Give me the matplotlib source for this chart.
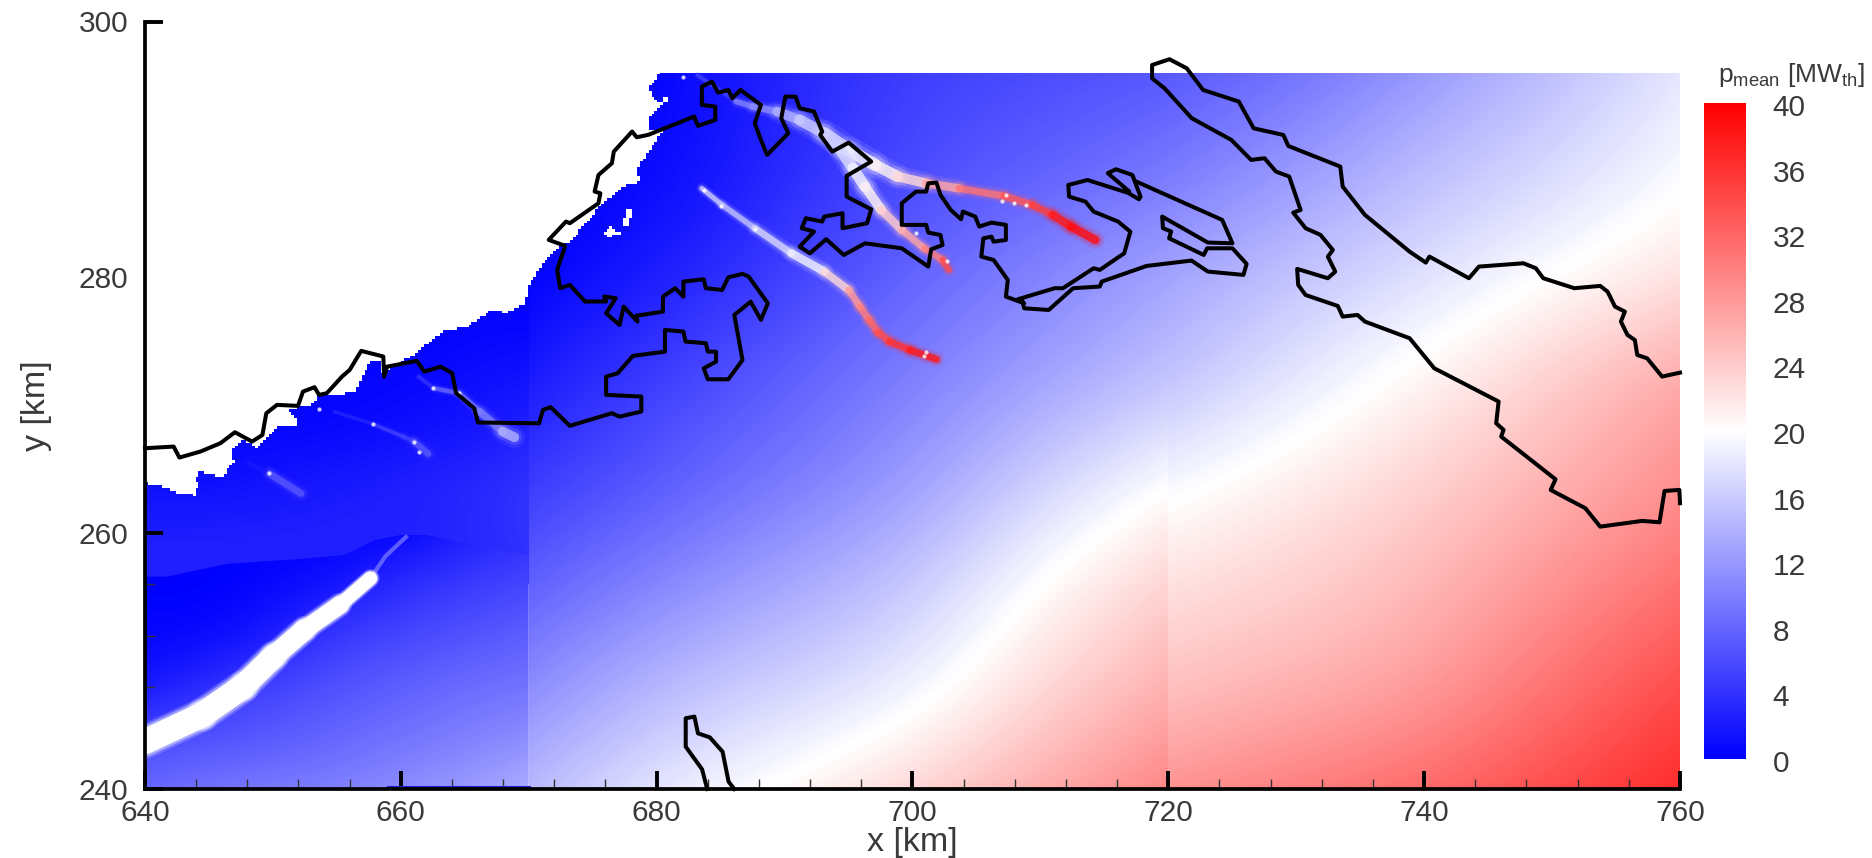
import numpy as np
import matplotlib
matplotlib.use("Agg")
import matplotlib.pyplot as plt
from matplotlib.collections import LineCollection
from matplotlib.colors import LinearSegmentedColormap
from matplotlib.patches import Polygon, Rectangle
from matplotlib.path import Path

plt.rcParams['font.family'] = ['Liberation Sans', 'DejaVu Sans']
plt.rcParams['mathtext.fontset'] = 'custom'
plt.rcParams['mathtext.rm'] = 'Liberation Sans'

# mean power field [MW_th], one block per simulation tile
left_x = [640, 645, 650, 655, 660, 665, 670]
low_y = [240, 244, 248, 252, 256, 260]
low_p = [[8, 9, 9.5, 10, 11, 12, 13.5],
         [6, 6.5, 7, 8, 9, 10, 11],
         [1.5, 3.5, 5.5, 6.5, 7.5, 8.5, 9],
         [0.5, 0.5, 2, 4.5, 5.5, 6.5, 7.5],
         [0, 0, 0.5, 1.5, 3.5, 4.5, 5.5],
         [0, 0, 0, 0, 0.5, 2.5, 3.5]]
up_y = [256, 260, 264, 268, 272, 276, 280, 284, 288, 292, 296]
up_p = [[2.5, 2.5, 2.5, 2.5, 2.5, 3, 3.5],
        [2.5, 2.5, 2.5, 2.5, 2.5, 3, 4],
        [1, 1, 1.5, 2, 2.5, 3, 4],
        [0.5, 0.5, 0.5, 0.5, 1, 1.5, 2.5],
        [0, 0, 0, 0.5, 0.5, 1, 1.5],
        [0, 0, 0, 0, 0, 0.5, 0.5],
        [0, 0, 0, 0, 0, 0, 0],
        [0, 0, 0, 0, 0, 0, 0],
        [0, 0, 0, 0, 0, 0, 0],
        [0, 0, 0, 0, 0, 0, 0],
        [0, 0, 0, 0, 0, 0, 0]]
mid_x = [670, 680, 690, 700, 710, 720]
right_x = [720, 730, 740, 750, 760]
tile_y = [240, 248, 256, 264, 272, 280, 288, 296]
mid_p = [[14.5, 18, 20.5, 23, 26.5, 29.5],
         [11, 14.5, 16.5, 18.5, 23, 26],
         [7.5, 10.5, 13, 15.5, 20.5, 23.5],
         [4.5, 7, 9.5, 12, 16.5, 20],
         [2, 5, 7.5, 10, 12.5, 15],
         [0, 2, 5, 8, 10.5, 13],
         [0, 0.5, 3, 6, 7.5, 9.5],
         [0, 0, 3, 5, 6, 7]]
right_p = [[28.5, 30, 31.5, 34, 36.5],
           [24.7, 26, 27.5, 31, 34],
           [22.5, 23.5, 25.5, 28.5, 31],
           [19.5, 21.5, 23.5, 26, 28.5],
           [15, 18, 21, 24, 27],
           [13, 15.5, 17.5, 20, 22],
           [9.5, 12, 15, 17, 19.5],
           [7, 9, 12, 15, 18]]
# edge of the darker band in the left tile
band_x = [640, 641.67, 646.45, 652.44, 655.63, 658.02, 660, 662, 665.2, 670, 670, 640]
band_y = [256.6, 256.6, 257.6, 258, 258.3, 259.47, 259.86, 259.86, 259.2, 258.3, 240, 240]

# land without data (white), jagged edge comes from the grid cells below
land_x = [640, 641.5, 642.5, 644, 644.1, 644.03, 644.18, 645.98, 647.03, 646.73, 647.62, 648.82, 649.87,
          650.6, 652.11, 651.2, 653.01, 653.61, 656.3, 657.5, 658.4, 658.69, 658.99, 660.79, 663.48, 664.98,
          667.07, 668.27, 669.62, 670.06, 670.96, 672.16, 673.21, 675.45, 677.25, 678.89, 678.44, 680.39,
          679.34, 679.49, 680.54, 679.79, 679.34, 680.39, 680.8, 640]
land_y = [263.9, 263.6, 263.2, 262.95, 263.7, 264.16, 264.89, 264.42, 265.6, 266.25, 267.42, 266.64, 267.81,
          268.4, 268.5, 269.7, 270.03, 270.81, 270.94, 273.28, 273.54, 272.11, 272.76, 273.81, 275.89, 276.02,
          277.45, 277.25, 277.85, 279.54, 280.84, 282.28, 282.8, 285.4, 287.1, 287.49, 288.4, 291.4,
          291.53, 292.57, 293.61, 293.87, 294.78, 296.09, 296.5, 296.5]
hole1_x = [677.84, 678.14, 677.69, 677.25, 677.55]
hole1_y = [285.53, 285.01, 283.97, 283.97, 284.75]
hole2_x = [676.35, 677.1, 676.05, 675.9]
hole2_y = [283.97, 283.45, 283.06, 283.58]
hole3_x = [680.54, 680.84, 680.84, 680.54]
hole3_y = [293.61, 293.61, 294.13, 294.13]

# turbine wakes: path, power along it, width in points
wake1_x = [683.2, 686.23, 687.51, 689.42, 691.18, 693.1, 695.01, 697.08, 698.84, 701.07, 703.63, 707.14, 709.37, 710.96, 712.4, 714.3]
wake1_y = [295.8, 293.74, 293.35, 292.96, 292.3, 291.26, 289.96, 288.79, 287.88, 287.35, 286.96, 286.36, 285.66, 284.88, 283.97, 282.92]
wake1_p = [5, 10, 11, 14, 16, 17, 19, 21, 23, 27, 31, 33, 35, 38, 39, 40]
wake1_w = [2.5, 4, 5, 7, 8, 9, 9, 8, 7, 6, 5, 5, 5, 6, 6]
wake2_x = [692.9, 694.37, 695.33, 696.29, 697.56, 699.16, 700.91, 702.35, 702.83]
wake2_y = [291.3, 289.96, 288.53, 287.09, 285.27, 283.71, 282.27, 281.36, 280.58]
wake2_p = [16, 17, 19, 21, 24, 27, 30, 34, 38]
wake2_w = [7, 8, 8, 7, 6, 5, 4.5, 4.5]
wake3_x = [683.52, 685.12, 687.67, 690.54, 693.1, 695.01, 695.9, 696.61, 697.3, 698.2, 699.8, 701.87]
wake3_y = [286.96, 285.66, 283.84, 281.88, 280.45, 279.01, 277.7, 276.67, 275.7, 274.98, 274.32, 273.59]
wake3_p = [16, 15, 17, 19, 23, 28, 30, 32, 34, 36, 38, 39]
wake3_w = [3.5, 4, 5, 6, 5.5, 5, 5, 5, 5, 5, 5]
wake4_x = [661.39, 662.58, 664.53, 666.17, 667.97, 668.87]
wake4_y = [272.24, 271.33, 270.94, 269.5, 267.94, 267.5]
wake4_p = [4, 8, 9, 10, 14, 18]
wake4_w = [2.5, 3, 4, 5.5, 7]
wake5_x = [654.8, 657.8, 660.19, 661.03, 662.14]
wake5_y = [269.5, 268.54, 267.55, 267.16, 266.2]
wake5_p = [3, 5, 5, 7, 11]
wake5_w = [2, 2.5, 3, 4.5]
wake6_x = [648.1, 649.72, 652.2]
wake6_y = [265.5, 264.66, 263.1]
wake6_p = [2, 7, 12]
wake6_w = [2.5, 5]
wakes = [(wake1_x, wake1_y, wake1_p, wake1_w), (wake2_x, wake2_y, wake2_p, wake2_w), (wake3_x, wake3_y, wake3_p, wake3_w),
         (wake4_x, wake4_y, wake4_p, wake4_w), (wake5_x, wake5_y, wake5_p, wake5_w), (wake6_x, wake6_y, wake6_p, wake6_w)]
# big white wake, with its width in points
big_x = [640, 644.46, 647.65, 650.04, 652.44, 655.23, 657.62]
big_y = [243.7, 245.79, 248, 250.35, 252.43, 254.39, 256.47]
big_w = [18, 18, 17, 15, 13, 10]
tail_x = [657.62, 658.8, 660.4]
tail_y = [256.47, 258.2, 259.7]
# bright single cells
spot_x = [662.52, 664.53, 653.61, 657.8, 661.03, 661.39, 649.72, 682.03, 683.68, 685.05, 687.67, 707.3, 706.98, 707.93, 708.89, 701.07, 700.91, 700.27, 702.67]
spot_y = [271.38, 270.94, 269.69, 268.54, 267.16, 266.38, 264.68, 295.64, 286.83, 285.61, 283.78, 286.44, 286, 285.79, 285.66, 274.2, 273.85, 283.5, 281.31]

# outlines
coast_x = [640, 642.24, 642.69, 644.33, 645.89, 647.03, 648.37, 649.18, 649.48, 650.32, 651.96, 652.35, 653.25, 653.61, 654.21,
           655.4, 656, 656.9, 658.63, 658.69, 658.93, 661.24, 661.84, 663.12, 664.02, 664.32, 665.73, 666.03, 670.81, 671.11,
           671.71, 673.21, 676.5, 677.1, 678.8, 678.8, 676.05, 676.05, 676.95, 678.14, 680.65, 680.65, 682.09, 682.25, 683.84,
           684, 684.64, 684.64, 683.68, 684, 685.6, 686.71, 686.07, 687.35, 688.15, 688.69, 687.19, 686.71, 685.6, 685.12,
           683.84, 683.68, 682.09, 682.09, 681.45, 680.49, 680.49, 678.42, 678.5, 677.42, 677.1, 676.05, 676.8, 675.9, 676.05,
           674.4, 673.21, 672.46, 672.22, 672.85, 671.56, 672.91, 673.21, 675.45, 675.6, 675.15, 675.45, 676.5, 676.65, 678.08,
           678.44, 679.34, 682.93, 683.23, 684.58, 684.58, 683.53, 683.53, 684.32, 684.8, 685.6, 685.91, 686.55, 688.15, 687.67,
           688.15, 688.63, 690.29, 689.74, 690.06, 690.86, 691.18, 692.3, 692.94, 692.78, 693.73, 695.01, 696.77, 694.85, 694.85,
           696.77, 696.45, 694.53, 694.53, 693.1, 692.94, 691.66, 691.34, 692.3, 691.18, 691.98, 693.25, 694.63, 696.29, 699.16,
           701.23, 701.46, 702.35, 702.19, 701.23, 701.07, 699.16, 699.16, 700.27, 701.07, 701.23, 701.87, 702.19, 702.99, 703.79,
           703.94, 704.9, 705.22, 706.18, 707.3, 707.3, 706.34, 706.18, 705.54, 705.38, 706.34, 707.45, 707.3, 708.73, 708.25,
           711.12, 711.76, 714.16, 714.64, 716.55, 717.03, 716.07, 714.16, 713.52, 712.24, 712.18, 713.68, 716.87, 717.7, 717.83,
           717.19, 715.91, 715.27, 716.9]
coast_y = [266.64, 266.77, 265.91, 266.38, 267.03, 267.89, 267.16, 267.68, 269.37, 270.03, 269.95, 271.07, 271.41, 270.81, 270.94,
           272.24, 272.76, 274.25, 273.81, 272.24, 273.02, 273.47, 272.63, 273.02, 272.5, 270.94, 269.77, 268.65, 268.59, 269.64,
           269.85, 268.39, 269.38, 269.11, 269.51, 270.68, 270.81, 272.24, 272.5, 273.86, 274.19, 275.89, 275.76, 274.98, 274.85,
           274.19, 274.19, 273.41, 272.89, 272.03, 272.03, 273.54, 277.06, 278.1, 276.67, 277.97, 280.06, 280.27, 280, 279.01,
           279.15, 279.85, 279.67, 278.49, 279.15, 278.49, 277.32, 277, 276.54, 277.71, 276.28, 277.19, 278.37, 278.5, 278.11,
           278.11, 279.41, 279.15, 280.58, 282.46, 282.93, 284.36, 284.23, 285.79, 286.57, 286.71, 288, 288.92, 289.83, 291.4,
           290.95, 291.14, 292.57, 291.84, 292.31, 293.35, 293.48, 294.91, 295.3, 294.44, 294.65, 294, 294.65, 293.48, 292.05,
           290.74, 289.57, 291.26, 292.44, 294.13, 294.13, 293.22, 292.96, 291.39, 291.13, 289.83, 290.53, 289.05, 287.93, 286.31,
           285.32, 284.23, 283.84, 285.01, 284.75, 284.36, 284.62, 283.84, 283.58, 282.4, 281.88, 282.98, 281.75, 282.66, 282.27,
           280.84, 282.19, 282.53, 283.31, 283.5, 284.1, 284.1, 285.79, 286.7, 286.7, 287.35, 287.41, 286.44, 285.27, 284.54,
           285.14, 284.75, 283.97, 284.28, 284.1, 282.92, 282.79, 283.18, 283.05, 281.62, 281.36, 279.8, 278.49, 277.97, 278.29,
           279.15, 279.15, 280.71, 280.58, 281.88, 283.57, 284.36, 285.14, 285.92, 286.31, 287.22, 287.61, 286.6, 286.1, 286.3,
           288, 288.45, 288.14, 286.75]
bay_x = [717.51, 724.21, 725.01, 723.09, 719.52, 719.58, 720.22, 720.06, 722.77, 723.03, 725.01, 726.12, 725.87, 723.09, 721.81, 718.3, 714.8, 714.64, 712.56, 710.65, 708.73, 708.57]
bay_y = [287.48, 284.49, 282.66, 282.72, 284.75, 283.84, 283.58, 283.05, 281.75, 282.27, 282.27, 281.05, 280.19, 280.45, 281.31, 280.89, 279.67, 279.28, 279.15, 277.45, 277.58, 278.23]
east_x = [760, 758.6, 757.43, 756.66, 756.47, 755.89, 755.38, 755.69, 754.92, 754.34, 753.76, 751.74, 749.31, 748.73, 747.76, 744.28, 743.5,
          740.41, 740.13, 738.86, 735.37, 733.63, 733.44, 729.38, 728.99, 726.67, 725.51, 722.72, 721.44, 720.09, 718.73, 718.73, 719.7, 721.83,
          724.93, 726.47, 727.52, 728.41, 729.45, 730.34, 729.76, 730.73, 731.89, 732.86, 732.47, 733.05, 732.47, 730.07, 730.15, 730.73, 733.25,
          733.63, 734.79, 735.37, 738.86, 740.79, 745.82, 745.63, 746.21, 746.02, 750.27, 749.89, 752.6, 753.76, 757.05, 758.4, 758.79, 759.95, 760]
east_y = [272.55, 272.24, 273.67, 273.93, 275.1, 275.5, 276.54, 277.32, 277.71, 278.88, 279.33, 279.15, 279.93, 280.71, 281.1, 280.84, 279.93,
          281.62, 281.15, 282.01, 284.88, 287.09, 288.66, 290.27, 291.13, 291.65, 293.74, 294.65, 296.34, 297.05, 296.6, 295.56, 294.78, 292.44,
          290.74, 289.18, 289.31, 288.27, 287.88, 285.27, 285.06, 283.84, 283.32, 282.14, 281.62, 280.45, 279.93, 280.66, 279.41, 278.62, 277.76,
          276.93, 277.06, 276.54, 275.24, 272.89, 270.29, 268.59, 268.07, 267.55, 264.21, 263.38, 261.95, 260.51, 260.96, 260.85, 263.3, 263.38, 262.34]
south_x = [683.95, 683.55, 682.27, 682.27, 682.95, 683.23, 684.15, 685.15, 685.62, 686.06]
south_y = [240, 241.54, 243.31, 245.53, 245.66, 244.35, 244.04, 242.92, 240.58, 240]

cbar_ticks = [0, 4, 8, 12, 16, 20, 24, 28, 32, 36, 40]

W, H = 1872, 858
cmap = LinearSegmentedColormap.from_list('bwr_p', ['#0000ff', '#ffffff', '#ff0000'])
norm = plt.Normalize(0, 40)
text_col = '#3a3a3a'

fig = plt.figure(figsize=(W / 100, H / 100), dpi=100)
ax = fig.add_axes([145 / W, (H - 789) / H, 1535 / W, 767.5 / H])


def tile(x, y, p, clip=None):
    # one block of the field, smoothed, cut to its own rectangle or to clip
    # the pad keeps the smoothing from fading at the block edge
    dx, dy = x[1] - x[0], y[1] - y[0]
    z = np.pad(np.array(p, dtype=float), 2, mode='reflect', reflect_type='odd')
    im = ax.imshow(z, origin='lower', aspect='auto', cmap=cmap, norm=norm, interpolation='bicubic',
                   extent=[x[0] - 2.5 * dx, x[-1] + 2.5 * dx, y[0] - 2.5 * dy, y[-1] + 2.5 * dy], zorder=1)
    if clip is None:
        clip = Rectangle((x[0], y[0]), x[-1] - x[0], y[-1] - y[0], transform=ax.transData)
    im.set_clip_path(clip)


tile(left_x, up_y, up_p)
tile(left_x, low_y, low_p, Polygon(np.column_stack([band_x, band_y]), transform=ax.transData))
tile(mid_x, tile_y, mid_p)
tile(right_x, tile_y, right_p)

# wakes, a few layers give the soft edge
for wx, wy, wp, ww in wakes:
    pts = np.column_stack([wx, wy])
    segs = np.stack([pts[:-1], pts[1:]], axis=1)
    vals = np.array(wp[:-1])
    for scale, alpha, z in [(2.2, 0.10, 2), (1.6, 0.18, 2.1), (1.0, 0.8, 2.2)]:
        ax.add_collection(LineCollection(segs, array=vals, cmap=cmap, norm=norm, linewidths=np.array(ww) * scale,
                                         alpha=alpha, capstyle='round', zorder=z))
pts = np.column_stack([big_x, big_y])
segs = np.stack([pts[:-1], pts[1:]], axis=1)
for scale, alpha, z in [(1.35, 0.2, 2), (1.18, 0.4, 2.1), (1.0, 1, 2.2)]:
    ax.add_collection(LineCollection(segs, colors='white', linewidths=np.array(big_w) * scale, alpha=alpha, capstyle='round', zorder=z))
ax.plot(tail_x, tail_y, color='#9c9cff', lw=3, alpha=0.55, zorder=2)
ax.scatter(spot_x, spot_y, s=9, color='white', alpha=0.8, linewidths=0, zorder=3)
ax.plot([659, 670], [240.18, 240.18], color='#2222cc', lw=2.2, zorder=2.4)

# white land, drawn as small cells
cell = 0.22
edge_x = 640 + cell * np.arange(188)
edge_y = 262 + cell * np.arange(161)
gx, gy = np.meshgrid(edge_x[:-1] + cell / 2, edge_y[:-1] + cell / 2)
cells = np.column_stack([gx.ravel(), gy.ravel()])
land = Path(np.column_stack([land_x, land_y])).contains_points(cells)
land |= Path(np.column_stack([hole1_x, hole1_y])).contains_points(cells)
land |= Path(np.column_stack([hole2_x, hole2_y])).contains_points(cells)
land |= Path(np.column_stack([hole3_x, hole3_y])).contains_points(cells)
land = land.reshape(gx.shape)
ax.pcolormesh(edge_x, edge_y, np.ma.masked_where(~land, land.astype(float)),
              cmap=LinearSegmentedColormap.from_list('w', ['white', 'white']),
              shading='flat', zorder=2.5, rasterized=True)

# outlines
for ox, oy in [(coast_x, coast_y), (bay_x, bay_y), (east_x, east_y), (south_x, south_y)]:
    ax.plot(ox, oy, color='black', lw=2.9, solid_joinstyle='round', zorder=4, clip_on=False)

ax.set_xlim(640, 760)
ax.set_ylim(240, 300)
for s in ['top', 'right']:
    ax.spines[s].set_visible(False)
for s in ['left', 'bottom']:
    ax.spines[s].set_linewidth(2.7)
    ax.spines[s].set_zorder(5)
ax.set_xticks(np.arange(640, 761, 20))
ax.set_yticks(np.arange(240, 301, 20))
ax.set_xticks(np.arange(640, 761, 4), minor=True)
ax.set_yticks(np.arange(240, 301, 4), minor=True)
ax.tick_params(which='major', direction='in', length=13, width=2.8, labelsize=21.5, labelcolor=text_col)
ax.tick_params(axis='x', which='major', pad=7)
ax.tick_params(axis='y', which='major', pad=12)
ax.tick_params(which='minor', direction='in', length=7, width=1, color='#333333')
ax.patch.set_alpha(0)

fig.text(912 / W, 1 - 843 / H, 'x [km]', fontsize=24.5, color=text_col, ha='center', va='center')
fig.text(36 / W, 1 - 406 / H, 'y [km]', fontsize=24.5, color=text_col, ha='center', va='center', rotation=90)

# colour bar, its labels sit a little below the matching colour
cax = fig.add_axes([1704 / W, (H - 759) / H, 42 / W, 656 / H])
cax.imshow(np.linspace(0, 40, 256)[:, None], aspect='auto', origin='lower', cmap=cmap, norm=norm, extent=[0, 1, 0, 40])
cax.set_xticks([])
cax.set_yticks([])
for t in cbar_ticks:
    cax.annotate(str(t), xy=(1, t), xycoords=('axes fraction', 'data'), xytext=(19, -3.6), textcoords='offset points',
                 fontsize=21.5, color=text_col, ha='left', va='center', annotation_clip=False)
for s in cax.spines.values():
    s.set_visible(False)
fig.text(1718 / W, 1 - 75 / H, r'p$_{\mathrm{mean}}$ [MW$_{\mathrm{th}}$]', fontsize=19, color=text_col, ha='left', va='center')

fig.savefig('out.png', dpi=100)
